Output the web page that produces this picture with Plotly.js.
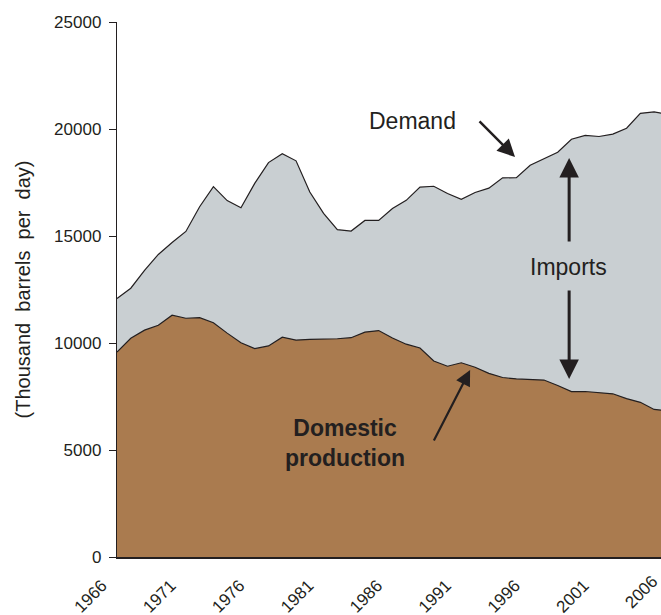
<!DOCTYPE html>
<html>
<head>
<meta charset="utf-8">
<script src="https://cdn.plot.ly/plotly-3.0.1.min.js"></script>
<style>html,body{margin:0;padding:0;background:#fff;}#chart{width:661px;height:615px;}</style>
</head>
<body>
<div id="chart"></div>
<script>
const years = [1966,1967,1968,1969,1970,1971,1972,1973,1974,1975,1976,1977,1978,1979,1980,1981,1982,1983,1984,1985,1986,1987,1988,1989,1990,1991,1992,1993,1994,1995,1996,1997,1998,1999,2000,2001,2002,2003,2004,2005,2006];
const demand = [12084,12560,13393,14137,14697,15213,16367,17308,16653,16322,17461,18431,18847,18513,17056,16058,15296,15231,15726,15726,16281,16665,17283,17325,16988,16714,17033,17237,17718,17725,18309,18620,18917,19519,19701,19649,19761,20034,20731,20802,20687];
const production = [9579,10219,10600,10828,11297,11156,11185,10946,10461,10008,9736,9863,10274,10136,10170,10181,10199,10247,10509,10581,10231,9944,9765,9159,8914,9076,8868,8583,8389,8322,8295,8269,8011,7731,7733,7670,7626,7400,7228,6895,6841];
const yTicks = [0,5000,10000,15000,20000,25000];
const xTicks = [1966,1971,1976,1981,1986,1991,1996,2001,2006];

const FONT = 'Liberation Sans, Arial, Helvetica, sans-serif';
const DARK = '#231f20';
const X0 = 1966, X1 = 2005.5, SHIFT_YEARS = 1.1, PX_PER_YEAR = 544 / (X1 - X0);
const inRange = xTicks.filter(v => v <= X1);
const pastRange = xTicks.filter(v => v > X1);

const traces = [
  {x: years, y: demand, type: 'scatter', mode: 'lines', fill: 'tozeroy',
   fillcolor: '#c9cfd2', line: {color: DARK, width: 1.2}, hoverinfo: 'skip'},
  {x: years, y: production, type: 'scatter', mode: 'lines', fill: 'tozeroy',
   fillcolor: '#aa7b4f', line: {color: DARK, width: 1.2}, hoverinfo: 'skip'},
  // invisible carrier so the secondary label axis is drawn
  {x: pastRange, y: pastRange.map(() => 0), xaxis: 'x2', yaxis: 'y', type: 'scatter',
   mode: 'markers', marker: {opacity: 0, size: 1}, hoverinfo: 'skip'}
];

const tickFont = {family: FONT, size: 17, color: DARK};

const layout = {
  width: 661, height: 615,
  margin: {l: 117, r: 0, t: 22, b: 58},
  paper_bgcolor: '#fff', plot_bgcolor: '#fff',
  showlegend: false,
  font: {family: FONT, color: DARK, size: 17},
  xaxis: {
    range: [X0, X1], tickvals: inRange, ticktext: inRange.map(String),
    tickangle: -45, ticks: '', showgrid: false, zeroline: false,
    showline: true, linecolor: DARK, linewidth: 2,
    ticklabelstandoff: 10, ticklabelshift: -Math.round(SHIFT_YEARS * PX_PER_YEAR),
    ticklabeloverflow: 'allow', tickfont: tickFont
  },
  xaxis2: {
    overlaying: 'x', anchor: 'y', side: 'bottom',
    range: [X0 + SHIFT_YEARS, X1 + SHIFT_YEARS], tickvals: pastRange, ticktext: pastRange.map(String),
    tickangle: -45, ticks: '', showgrid: false, zeroline: false, showline: false,
    ticklabelstandoff: 10, ticklabeloverflow: 'allow', tickfont: tickFont
  },
  yaxis: {
    range: [0, 25000], tickvals: yTicks, ticktext: yTicks.map(String),
    ticks: 'outside', ticklen: 7, tickwidth: 1, tickcolor: DARK,
    ticklabelstandoff: 4,
    showgrid: false, zeroline: false, showline: true, linecolor: DARK, linewidth: 1.2,
    tickfont: tickFont,
    title: {text: '(Thousand\u00a0\u00a0barrels\u00a0\u00a0per\u00a0\u00a0day)', standoff: 18,
            font: {family: FONT, size: 20, color: DARK}}
  },
  annotations: [
    {x: 1987.46, y: 20374, text: 'Demand', showarrow: false,
     font: {family: FONT, size: 23, color: DARK}},
    {x: 1994.9, y: 18692, ax: -37, ay: -37, text: '', showarrow: true,
     arrowhead: 2, arrowsize: 1.4, arrowwidth: 2.5, arrowcolor: DARK},
    {x: 1998.75, y: 13551, text: 'Imports', showarrow: false,
     font: {family: FONT, size: 23, color: DARK}},
    {x: 1998.83, y: 18645, ax: 0, ay: 85, text: '', showarrow: true,
     arrowhead: 2, arrowsize: 1.3, arrowwidth: 3, arrowcolor: DARK},
    {x: 1998.83, y: 8318, ax: 0, ay: -90, text: '', showarrow: true,
     arrowhead: 2, arrowsize: 1.3, arrowwidth: 3, arrowcolor: DARK},
    {x: 1982.56, y: 5327, text: '<b>Domestic<br>production</b>', showarrow: false,
     font: {family: FONT, size: 23, color: DARK}},
    {x: 1991.64, y: 8738, ax: -37, ay: 72, text: '', showarrow: true,
     arrowhead: 2, arrowsize: 1.4, arrowwidth: 2.2, arrowcolor: DARK}
  ]
};

Plotly.newPlot('chart', traces, layout, {displayModeBar: false, staticPlot: true});
</script>
</body>
</html>
